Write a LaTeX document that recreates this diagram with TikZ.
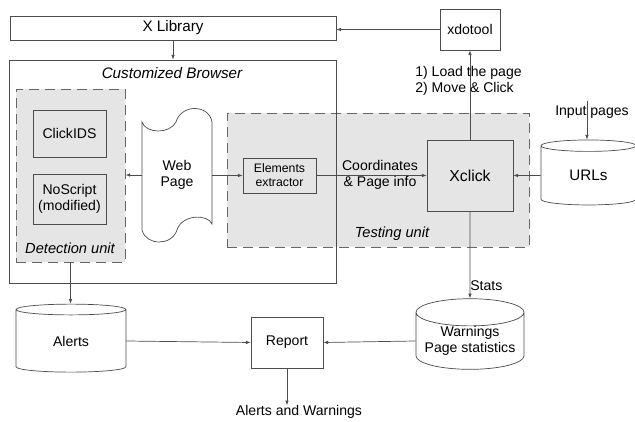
\documentclass[tikz,border=0pt]{standalone}
\usepackage{fontspec}
\setmainfont{Liberation Sans}
\usepackage{tikz}
\usetikzlibrary{arrows.meta,shapes.geometric}

\tikzset{
  line/.style={draw=black!70, line width=0.6pt},
  arr/.style={line, -{Latex[length=4pt,width=3pt]}},
  box/.style={line, rectangle, inner sep=0pt, align=center, font=\fontsize{12}{14}\selectfont},
  unit/.style={draw=black!60, line width=0.8pt, dash pattern=on 3mm off 1.8mm, fill=black!10, rectangle, inner sep=0pt},
  db/.style={line, cylinder, shape border rotate=90, aspect=0.3, inner sep=0pt, align=center, font=\fontsize{12}{14}\selectfont},
  lbl/.style={inner sep=0pt, align=center, font=\fontsize{12}{14}\selectfont},
  unitname/.style={inner sep=0pt, font=\fontsize{12.5}{14}\selectfont\itshape},
}

\begin{document}
\begin{tikzpicture}[x=0.3mm, y=-0.3mm]
\useasboundingbox (0,0) rectangle (635,422);

% top row
\node[box, minimum width=97.8mm, minimum height=7.2mm, font=\fontsize{13}{15}\selectfont] (xlib) at (173,28) {X Library};
\node[box, minimum width=18mm, minimum height=12.3mm] (xdotool) at (470,29.5) {xdotool};

% detection unit
\node[unit, minimum width=32.7mm, minimum height=51.9mm] (detect) at (70.5,175.5) {};
\node[box, fill=black!10, minimum width=21.9mm, minimum height=14.1mm] (clickids) at (69.5,133.5) {ClickIDS};
\node[box, fill=black!10, minimum width=21.9mm, minimum height=15mm] (noscript) at (69.5,199) {NoScript\\(modified)};
\node[unitname] (detectname) at (70,248) {Detection unit};

% web page
\draw[line, fill=white] (142,122) .. controls (146,134) and (170,134) .. (176,122)
  .. controls (181,104) and (209,104) .. (212,122) -- (212,224)
  .. controls (208,214) and (182,214) .. (177,230)
  .. controls (172,246) and (146,246) .. (142,230) -- cycle;
\node[lbl, minimum width=21mm, minimum height=30mm] (webpage) at (177,175) {Web\\Page};

% testing unit
\node[unit, minimum width=90.6mm, minimum height=40.2mm] (testing) at (378,180) {};
\node[box, fill=black!10, minimum width=21.9mm, minimum height=10.5mm, font=\fontsize{10.5}{12}\selectfont] (extractor) at (279.5,175.5) {Elements\\extractor};
\node[box, fill=black!10, minimum width=25.8mm, minimum height=21.3mm, font=\fontsize{13.5}{15}\selectfont] (xclick) at (470,175.5) {Xclick};
\node[unitname] (testingname) at (392,234) {Testing unit};
\node[lbl] (coords) at (380,175) {Coordinates\\\& Page info};

% browser (border on top of the units)
\node[box, minimum width=98.1mm, minimum height=66.9mm] (browser) at (172.5,171.5) {};
\node[unitname, font=\fontsize{13}{15}\selectfont\itshape] (browsername) at (172,73) {Customized Browser};

% URLs
\node[db, minimum width=28.5mm, minimum height=19.5mm, font=\fontsize{13}{15}\selectfont] (urls) at (588.5,175.5) {URLs};
\node[lbl] (inputname) at (592,112) {Input pages};
\coordinate (inputtop) at (587,101);

% bottom row
\node[db, minimum width=33mm, minimum height=20.4mm] (alerts) at (71,341) {Alerts};
\node[box, minimum width=21.6mm, minimum height=15.3mm] (report) at (287,342.5) {Report};
\node[db, minimum width=32.4mm, minimum height=20.4mm] (warnings) at (470,341) {Warnings\\Page statistics};
\node[lbl] (result) at (299,412) {Alerts and Warnings};

% connectors
\draw[arr] (xdotool.west) -- (xdotool.west -| xlib.east);
\draw[arr] (xlib.south) -- (browser.north -| xlib.south);
\draw[arr] (xclick.north) -- node[lbl, pos=0.66, anchor=west, align=left, xshift=-16.5mm] {1) Load the page\\2) Move \& Click} (xdotool.south);
\draw[arr] (urls.west) -- (xclick.east);
\draw[arr] (inputtop) -- (urls.north -| inputtop);
\draw[arr] (extractor.east) -- (xclick.west);
\draw[arr] (webpage.east |- extractor.west) -- (extractor.west);
\draw[arr] (webpage.west) -- (detect.east |- webpage.west);
\draw[arr] (detect.south) -- (alerts.north -| detect.south);
\draw[arr] (xclick.south) -- node[lbl, anchor=west, pos=0.85] {Stats} (warnings.north);
\draw[arr] (alerts.east) -- (report.west);
\draw[arr] (warnings.west) -- (report.east);
\draw[arr] (report.south) -- (report.south |- result.north);
\end{tikzpicture}
\end{document}
